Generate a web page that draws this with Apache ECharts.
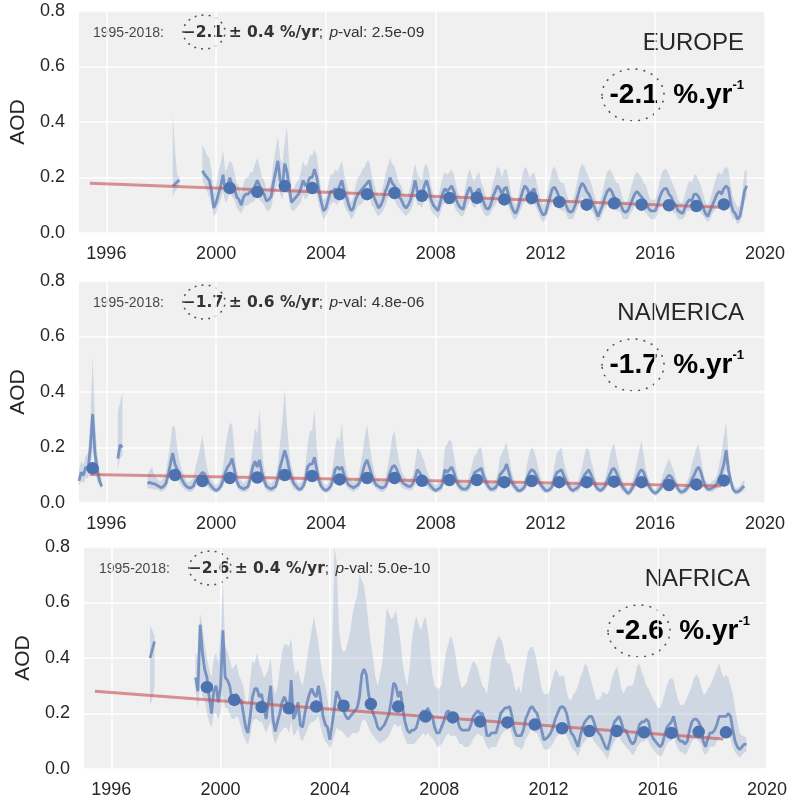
<!doctype html>
<html lang="en">
<head>
<meta charset="UTF-8">
<title>AOD trends</title>
<script src="https://cdn.jsdelivr.net/npm/echarts@6/dist/echarts.min.js"></script>
<style>
  html, body { margin: 0; padding: 0; background: #fff; }
  #main { width: 790px; height: 804px; }
</style>
</head>
<body>
<div id="main"></div>
<script>
// ---- tick labels ----
var xTicks = [1996, 2000, 2004, 2008, 2012, 2016, 2020];

// ---- EUROPE: monthly AOD (mean, band low, band high) ----
// short piece, Jun-Sep 1998
var eurMeanA = [0.17, 0.175, 0.185, 0.19];
var eurLowA  = [0.13, 0.15, 0.16, 0.17];
var eurHighA = [0.43, 0.30, 0.21, 0.20];
// main piece, Jul 1999 - May 2019
var eurMeanB = [
  0.225,0.21,0.2,0.19,0.15,0.09,
  0.11,0.14,0.17,0.21,0.15,0.17,0.2,0.17,0.16,0.13,0.12,0.1,
  0.13,0.14,0.14,0.15,0.15,0.17,0.19,0.17,0.15,0.14,0.115,0.12,
  0.13,0.18,0.22,0.26,0.19,0.17,0.25,0.22,0.16,0.11,0.12,0.13,
  0.14,0.16,0.19,0.17,0.18,0.2,0.2,0.23,0.2,0.15,0.11,0.08,
  0.09,0.12,0.15,0.15,0.16,0.15,0.17,0.19,0.15,0.13,0.1,0.08,
  0.09,0.12,0.14,0.15,0.16,0.17,0.18,0.19,0.15,0.13,0.11,0.09,
  0.1,0.12,0.15,0.17,0.2,0.18,0.17,0.15,0.13,0.12,0.1,0.09,
  0.1,0.12,0.15,0.19,0.15,0.14,0.13,0.17,0.19,0.16,0.12,0.1,
  0.09,0.08,0.11,0.14,0.16,0.15,0.16,0.17,0.15,0.12,0.1,0.09,
  0.085,0.12,0.15,0.165,0.14,0.13,0.15,0.16,0.13,0.11,0.09,0.085,
  0.1,0.13,0.15,0.17,0.16,0.14,0.16,0.165,0.13,0.1,0.08,0.07,
  0.09,0.12,0.15,0.17,0.16,0.14,0.15,0.16,0.13,0.1,0.08,0.065,
  0.07,0.1,0.13,0.16,0.165,0.15,0.13,0.12,0.12,0.1,0.08,0.075,
  0.08,0.1,0.13,0.16,0.18,0.17,0.15,0.14,0.12,0.1,0.08,0.06,
  0.08,0.1,0.13,0.15,0.16,0.15,0.13,0.12,0.12,0.1,0.08,0.075,
  0.08,0.1,0.12,0.14,0.15,0.14,0.13,0.12,0.11,0.09,0.08,0.08,
  0.08,0.1,0.13,0.15,0.16,0.16,0.14,0.13,0.11,0.1,0.08,0.075,
  0.07,0.09,0.11,0.12,0.115,0.14,0.14,0.13,0.11,0.09,0.07,0.06,
  0.08,0.1,0.12,0.14,0.15,0.14,0.16,0.17,0.16,0.11,0.08,0.07,
  0.05,0.06,0.1,0.15,0.17
];
var eurLowB = [
  0.19,0.17,0.15,0.13,0.1,0.06,
  0.07,0.1,0.12,0.15,0.11,0.12,0.15,0.13,0.12,0.09,0.08,0.07,
  0.09,0.1,0.1,0.11,0.11,0.12,0.14,0.12,0.11,0.1,0.08,0.08,
  0.09,0.13,0.15,0.19,0.14,0.12,0.18,0.16,0.11,0.08,0.08,0.09,
  0.1,0.11,0.14,0.12,0.13,0.15,0.15,0.17,0.14,0.1,0.07,0.05,
  0.06,0.08,0.1,0.11,0.11,0.1,0.12,0.14,0.1,0.08,0.07,0.05,
  0.06,0.08,0.1,0.1,0.11,0.12,0.13,0.14,0.1,0.09,0.07,0.06,
  0.07,0.08,0.1,0.12,0.15,0.13,0.12,0.1,0.09,0.08,0.07,0.06,
  0.07,0.08,0.1,0.14,0.1,0.1,0.09,0.12,0.14,0.11,0.08,0.07,
  0.06,0.05,0.07,0.1,0.11,0.1,0.11,0.12,0.1,0.08,0.07,0.06,
  0.06,0.08,0.1,0.12,0.1,0.09,0.1,0.11,0.09,0.07,0.06,0.06,
  0.07,0.09,0.1,0.12,0.11,0.1,0.11,0.12,0.09,0.07,0.05,0.05,
  0.06,0.08,0.1,0.12,0.11,0.1,0.1,0.11,0.09,0.07,0.05,0.04,
  0.05,0.07,0.09,0.11,0.12,0.1,0.09,0.08,0.08,0.07,0.05,0.05,
  0.05,0.07,0.09,0.11,0.13,0.12,0.1,0.1,0.08,0.07,0.05,0.04,
  0.05,0.07,0.09,0.1,0.11,0.1,0.09,0.08,0.08,0.07,0.05,0.05,
  0.05,0.07,0.08,0.1,0.1,0.1,0.09,0.08,0.07,0.06,0.05,0.05,
  0.05,0.07,0.09,0.1,0.11,0.11,0.1,0.09,0.07,0.07,0.05,0.05,
  0.05,0.06,0.08,0.08,0.08,0.1,0.1,0.09,0.07,0.06,0.05,0.04,
  0.05,0.07,0.08,0.1,0.1,0.1,0.11,0.12,0.11,0.07,0.05,0.05,
  0.03,0.04,0.06,0.11,0.13
];
var eurHighB = [
  0.32,0.3,0.28,0.27,0.22,0.14,
  0.17,0.22,0.25,0.3,0.22,0.24,0.26,0.25,0.22,0.18,0.17,0.14,
  0.18,0.2,0.2,0.22,0.22,0.25,0.27,0.24,0.2,0.19,0.16,0.16,
  0.18,0.25,0.3,0.35,0.27,0.25,0.33,0.38,0.24,0.16,0.16,0.18,
  0.19,0.22,0.26,0.24,0.25,0.28,0.28,0.3,0.28,0.21,0.15,0.12,
  0.13,0.17,0.21,0.21,0.23,0.22,0.24,0.26,0.21,0.18,0.14,0.11,
  0.13,0.17,0.2,0.21,0.23,0.24,0.26,0.26,0.21,0.18,0.15,0.13,
  0.14,0.17,0.21,0.24,0.27,0.25,0.24,0.21,0.18,0.17,0.14,0.13,
  0.14,0.17,0.21,0.25,0.21,0.2,0.19,0.24,0.25,0.22,0.17,0.14,
  0.13,0.12,0.16,0.2,0.22,0.21,0.22,0.23,0.21,0.17,0.14,0.13,
  0.12,0.17,0.21,0.23,0.2,0.19,0.21,0.22,0.18,0.16,0.13,0.12,
  0.14,0.18,0.21,0.24,0.23,0.2,0.23,0.23,0.19,0.14,0.12,0.1,
  0.13,0.17,0.21,0.24,0.23,0.2,0.21,0.22,0.19,0.15,0.12,0.1,
  0.11,0.15,0.19,0.23,0.24,0.22,0.19,0.18,0.18,0.15,0.12,0.11,
  0.12,0.15,0.19,0.23,0.25,0.24,0.22,0.2,0.18,0.15,0.12,0.09,
  0.12,0.15,0.19,0.22,0.23,0.22,0.2,0.18,0.18,0.15,0.12,0.11,
  0.12,0.15,0.18,0.21,0.22,0.21,0.2,0.18,0.17,0.14,0.12,0.12,
  0.12,0.15,0.19,0.22,0.23,0.23,0.21,0.19,0.17,0.15,0.12,0.11,
  0.11,0.14,0.17,0.19,0.18,0.21,0.21,0.19,0.17,0.14,0.11,0.1,
  0.12,0.15,0.18,0.21,0.22,0.21,0.23,0.24,0.23,0.17,0.13,0.11,
  0.09,0.1,0.14,0.22,0.23
];
var eurDotYears = [2000,2001,2002,2003,2004,2005,2006,2007,2008,2009,2010,2011,2012,2013,2014,2015,2016,2017,2018];
var eurDots = [0.162,0.148,0.169,0.162,0.14,0.14,0.144,0.134,0.126,0.127,0.121,0.126,0.112,0.102,0.107,0.102,0.1,0.097,0.103];
var eurTrendYears = [1995.4, 2018.4];
var eurTrend = [0.179, 0.093];

// ---- NAMERICA ----
// Jan-Nov 1995
var namMeanA = [0.08,0.11,0.1,0.13,0.12,0.2,0.32,0.18,0.12,0.08,0.06];
var namLowA  = [0.06,0.08,0.07,0.09,0.09,0.12,0.2,0.12,0.08,0.06,0.05];
var namHighA = [0.12,0.15,0.14,0.17,0.18,0.3,0.53,0.3,0.18,0.12,0.08];
// Jun-Aug 1996
var namMeanB = [0.16,0.21,0.2];
var namLowB  = [0.12,0.16,0.17];
var namHighB = [0.33,0.36,0.4];
// Jul 1997 - Apr 2019
var namMeanC = [
  0.07,0.075,0.07,0.07,0.065,0.06,
  0.055,0.06,0.07,0.1,0.14,0.18,0.14,0.12,0.1,0.085,0.07,0.06,
  0.055,0.055,0.06,0.08,0.09,0.1,0.11,0.105,0.085,0.07,0.06,0.05,
  0.045,0.05,0.06,0.08,0.11,0.13,0.14,0.16,0.12,0.08,0.06,0.055,
  0.05,0.055,0.06,0.09,0.13,0.15,0.13,0.155,0.11,0.08,0.06,0.055,
  0.05,0.055,0.06,0.09,0.13,0.16,0.19,0.16,0.12,0.09,0.07,0.06,
  0.05,0.05,0.06,0.08,0.13,0.14,0.14,0.165,0.12,0.08,0.06,0.05,
  0.045,0.05,0.06,0.08,0.12,0.13,0.12,0.13,0.1,0.08,0.065,0.06,
  0.055,0.06,0.065,0.08,0.11,0.14,0.155,0.13,0.1,0.08,0.065,0.06,
  0.055,0.055,0.06,0.08,0.11,0.13,0.135,0.12,0.1,0.08,0.07,0.065,
  0.06,0.06,0.07,0.09,0.12,0.11,0.095,0.09,0.08,0.07,0.06,0.05,
  0.045,0.05,0.055,0.07,0.12,0.11,0.12,0.13,0.11,0.08,0.065,0.055,
  0.05,0.05,0.055,0.07,0.085,0.11,0.115,0.12,0.125,0.095,0.075,0.06,
  0.05,0.05,0.055,0.065,0.1,0.11,0.12,0.14,0.11,0.08,0.065,0.055,
  0.045,0.045,0.05,0.06,0.09,0.11,0.12,0.115,0.1,0.08,0.065,0.055,
  0.045,0.045,0.05,0.06,0.09,0.11,0.115,0.12,0.1,0.08,0.065,0.05,
  0.045,0.05,0.055,0.065,0.08,0.1,0.11,0.12,0.1,0.08,0.06,0.05,
  0.045,0.05,0.06,0.08,0.1,0.12,0.125,0.11,0.09,0.07,0.055,0.045,
  0.035,0.04,0.055,0.07,0.09,0.11,0.12,0.11,0.085,0.065,0.05,0.04,
  0.035,0.04,0.05,0.06,0.08,0.09,0.1,0.095,0.08,0.065,0.05,0.04,
  0.04,0.045,0.055,0.065,0.085,0.1,0.12,0.13,0.11,0.08,0.06,0.05,
  0.05,0.055,0.06,0.07,0.09,0.11,0.14,0.19,0.12,0.08,0.05,0.04,
  0.04,0.045,0.055,0.06
];
var namLowC = [
  0.05,0.055,0.05,0.05,0.05,0.045,
  0.04,0.045,0.05,0.07,0.1,0.13,0.1,0.09,0.07,0.06,0.05,0.045,
  0.04,0.04,0.045,0.06,0.065,0.07,0.08,0.075,0.06,0.05,0.045,0.04,
  0.035,0.04,0.045,0.06,0.08,0.09,0.1,0.11,0.08,0.06,0.045,0.04,
  0.04,0.04,0.045,0.065,0.09,0.1,0.09,0.1,0.08,0.06,0.045,0.04,
  0.04,0.04,0.045,0.065,0.09,0.11,0.13,0.11,0.08,0.065,0.05,0.045,
  0.04,0.04,0.045,0.06,0.09,0.1,0.1,0.11,0.08,0.06,0.045,0.04,
  0.035,0.04,0.045,0.06,0.085,0.09,0.085,0.09,0.07,0.06,0.05,0.045,
  0.04,0.045,0.05,0.06,0.08,0.1,0.11,0.09,0.07,0.06,0.05,0.045,
  0.04,0.04,0.045,0.06,0.08,0.09,0.095,0.085,0.07,0.06,0.05,0.05,
  0.045,0.045,0.05,0.065,0.085,0.08,0.07,0.065,0.06,0.05,0.045,0.04,
  0.035,0.04,0.04,0.05,0.085,0.08,0.085,0.09,0.08,0.06,0.05,0.04,
  0.04,0.04,0.04,0.05,0.06,0.08,0.08,0.085,0.09,0.07,0.055,0.045,
  0.04,0.04,0.04,0.05,0.07,0.08,0.085,0.1,0.08,0.06,0.05,0.04,
  0.035,0.035,0.04,0.045,0.065,0.08,0.085,0.08,0.07,0.06,0.05,0.04,
  0.035,0.035,0.04,0.045,0.065,0.08,0.08,0.085,0.07,0.06,0.05,0.04,
  0.035,0.04,0.04,0.05,0.06,0.07,0.08,0.085,0.07,0.06,0.045,0.04,
  0.035,0.04,0.045,0.06,0.07,0.085,0.09,0.08,0.065,0.05,0.04,0.035,
  0.025,0.03,0.04,0.05,0.065,0.08,0.085,0.08,0.06,0.05,0.04,0.03,
  0.025,0.03,0.04,0.045,0.06,0.065,0.07,0.07,0.06,0.05,0.04,0.03,
  0.03,0.035,0.04,0.05,0.06,0.07,0.085,0.09,0.08,0.06,0.045,0.04,
  0.04,0.04,0.045,0.05,0.065,0.08,0.1,0.12,0.08,0.06,0.04,0.03,
  0.03,0.035,0.04,0.045
];
var namHighC = [
  0.1,0.12,0.13,0.1,0.09,0.08,
  0.08,0.09,0.11,0.16,0.22,0.28,0.27,0.2,0.15,0.12,0.1,0.08,
  0.075,0.08,0.09,0.13,0.16,0.2,0.245,0.18,0.13,0.1,0.085,0.07,
  0.065,0.07,0.09,0.13,0.2,0.25,0.29,0.28,0.19,0.12,0.09,0.08,
  0.07,0.08,0.09,0.14,0.2,0.27,0.25,0.335,0.2,0.12,0.09,0.075,
  0.07,0.08,0.09,0.14,0.22,0.3,0.41,0.28,0.18,0.13,0.1,0.08,
  0.07,0.07,0.09,0.13,0.21,0.26,0.26,0.335,0.2,0.12,0.09,0.07,
  0.065,0.07,0.09,0.13,0.2,0.24,0.22,0.29,0.17,0.12,0.09,0.085,
  0.075,0.085,0.09,0.13,0.18,0.24,0.28,0.22,0.16,0.12,0.09,0.085,
  0.075,0.08,0.09,0.13,0.18,0.24,0.26,0.2,0.15,0.12,0.1,0.09,
  0.08,0.085,0.1,0.14,0.2,0.19,0.17,0.15,0.12,0.1,0.085,0.07,
  0.065,0.07,0.08,0.11,0.2,0.21,0.23,0.22,0.17,0.12,0.09,0.075,
  0.07,0.07,0.08,0.11,0.14,0.17,0.18,0.2,0.2,0.14,0.1,0.085,
  0.07,0.07,0.08,0.1,0.16,0.18,0.2,0.22,0.17,0.12,0.09,0.075,
  0.065,0.065,0.07,0.09,0.14,0.18,0.2,0.19,0.16,0.12,0.09,0.075,
  0.065,0.065,0.07,0.09,0.14,0.18,0.19,0.2,0.15,0.12,0.09,0.07,
  0.065,0.07,0.075,0.1,0.13,0.17,0.2,0.19,0.15,0.12,0.085,0.07,
  0.065,0.07,0.085,0.12,0.16,0.2,0.215,0.17,0.13,0.1,0.075,0.065,
  0.05,0.06,0.08,0.11,0.15,0.19,0.225,0.17,0.12,0.09,0.07,0.055,
  0.05,0.06,0.07,0.09,0.12,0.14,0.16,0.14,0.12,0.09,0.07,0.055,
  0.055,0.065,0.08,0.1,0.14,0.17,0.2,0.21,0.16,0.11,0.08,0.07,
  0.07,0.08,0.085,0.1,0.14,0.18,0.24,0.29,0.18,0.11,0.07,0.055,
  0.055,0.06,0.075,0.085
];
var namDotYears = [1995,1998,1999,2000,2001,2002,2003,2004,2005,2006,2007,2008,2009,2010,2011,2012,2013,2014,2015,2016,2017,2018];
var namDots = [0.125,0.101,0.079,0.09,0.092,0.101,0.097,0.085,0.09,0.09,0.08,0.083,0.083,0.075,0.079,0.075,0.075,0.077,0.075,0.065,0.067,0.081];
var namTrendYears = [1995.4, 2018.4];
var namTrend = [0.103, 0.061];

// ---- NAFRICA ----
// Jun-Aug 1997
var nafMeanA = [0.40, 0.43, 0.46];
var nafLowA  = [0.23, 0.25, 0.30];
var nafHighA = [0.52, 0.50, 0.48];
// Feb 1999 - Apr 2019
var nafMeanB = [
  0.33,0.28,0.52,0.42,0.36,0.33,0.26,0.2,0.28,0.3,0.24,
  0.3,0.5,0.33,0.32,0.3,0.25,0.26,0.27,0.24,0.25,0.2,0.15,
  0.13,0.19,0.26,0.29,0.29,0.26,0.27,0.22,0.18,0.24,0.3,0.18,
  0.135,0.17,0.2,0.24,0.26,0.24,0.2,0.32,0.18,0.2,0.24,0.16,
  0.15,0.2,0.24,0.27,0.29,0.27,0.26,0.3,0.25,0.19,0.16,0.15,
  0.105,0.16,0.22,0.28,0.26,0.24,0.21,0.19,0.18,0.19,0.2,0.21,
  0.22,0.26,0.34,0.36,0.34,0.27,0.23,0.2,0.18,0.15,0.14,0.15,
  0.16,0.18,0.2,0.25,0.31,0.3,0.26,0.28,0.22,0.17,0.14,0.13,
  0.14,0.14,0.15,0.18,0.2,0.21,0.2,0.22,0.2,0.19,0.15,0.13,
  0.13,0.15,0.17,0.2,0.21,0.2,0.2,0.2,0.18,0.15,0.14,0.14,
  0.14,0.14,0.16,0.19,0.2,0.21,0.2,0.2,0.17,0.12,0.12,0.13,
  0.13,0.13,0.16,0.2,0.21,0.22,0.22,0.225,0.19,0.14,0.12,0.12,
  0.12,0.14,0.18,0.2,0.22,0.225,0.21,0.2,0.17,0.14,0.105,0.11,
  0.117,0.13,0.15,0.18,0.2,0.22,0.225,0.22,0.2,0.16,0.13,0.12,
  0.1,0.08,0.12,0.15,0.17,0.18,0.19,0.19,0.17,0.14,0.13,0.12,
  0.1,0.08,0.07,0.1,0.14,0.17,0.18,0.19,0.17,0.14,0.14,0.12,
  0.1,0.09,0.1,0.13,0.16,0.17,0.17,0.18,0.17,0.13,0.11,0.1,
  0.09,0.08,0.09,0.12,0.15,0.16,0.17,0.19,0.15,0.11,0.1,0.1,
  0.09,0.1,0.14,0.17,0.18,0.18,0.17,0.15,0.1,0.08,0.11,0.13,
  0.13,0.14,0.16,0.19,0.19,0.19,0.19,0.2,0.19,0.14,0.1,0.08,
  0.07,0.08,0.09,0.088
];
var nafLowB = [
  0.28,0.22,0.3,0.26,0.25,0.2,0.17,0.15,0.2,0.2,0.18,
  0.2,0.27,0.22,0.22,0.2,0.18,0.18,0.19,0.18,0.15,0.12,0.1,
  0.09,0.12,0.17,0.18,0.18,0.17,0.17,0.15,0.13,0.15,0.17,0.12,
  0.09,0.11,0.13,0.14,0.15,0.15,0.13,0.17,0.12,0.13,0.15,0.11,
  0.1,0.12,0.14,0.16,0.17,0.17,0.18,0.19,0.15,0.12,0.1,0.09,
  0.07,0.09,0.12,0.15,0.14,0.14,0.13,0.12,0.11,0.12,0.13,0.13,
  0.13,0.14,0.17,0.18,0.17,0.15,0.13,0.12,0.11,0.1,0.09,0.1,
  0.1,0.11,0.12,0.14,0.16,0.16,0.15,0.16,0.13,0.11,0.09,0.09,
  0.09,0.09,0.1,0.11,0.12,0.13,0.12,0.13,0.12,0.11,0.1,0.08,
  0.08,0.09,0.1,0.12,0.13,0.12,0.12,0.12,0.11,0.09,0.09,0.08,
  0.08,0.08,0.09,0.11,0.12,0.13,0.12,0.12,0.1,0.08,0.07,0.08,
  0.08,0.08,0.1,0.12,0.13,0.14,0.14,0.15,0.12,0.09,0.08,0.08,
  0.07,0.08,0.11,0.12,0.14,0.14,0.13,0.13,0.11,0.09,0.07,0.07,
  0.07,0.08,0.09,0.11,0.12,0.13,0.14,0.13,0.12,0.1,0.08,0.07,
  0.06,0.045,0.07,0.09,0.1,0.11,0.12,0.12,0.1,0.09,0.08,0.07,
  0.06,0.045,0.035,0.06,0.08,0.1,0.11,0.12,0.1,0.09,0.08,0.07,
  0.06,0.05,0.06,0.08,0.09,0.1,0.1,0.11,0.1,0.08,0.07,0.06,
  0.05,0.045,0.05,0.07,0.09,0.1,0.1,0.12,0.09,0.07,0.06,0.06,
  0.05,0.06,0.08,0.1,0.11,0.11,0.1,0.09,0.06,0.05,0.06,0.08,
  0.08,0.08,0.1,0.11,0.12,0.12,0.12,0.12,0.11,0.08,0.06,0.05,
  0.04,0.05,0.06,0.06
];
var nafHighB = [
  0.42,0.4,0.56,0.52,0.45,0.4,0.36,0.33,0.4,0.42,0.38,
  0.5,0.68,0.45,0.42,0.4,0.36,0.37,0.38,0.34,0.32,0.3,0.24,
  0.24,0.32,0.39,0.38,0.42,0.38,0.36,0.33,0.34,0.36,0.4,0.3,
  0.27,0.3,0.36,0.42,0.45,0.45,0.44,0.47,0.38,0.34,0.36,0.32,
  0.3,0.34,0.4,0.45,0.5,0.55,0.5,0.45,0.38,0.33,0.3,0.25,
  0.2,0.4,0.8,0.75,0.5,0.44,0.42,0.43,0.46,0.5,0.56,0.6,
  0.62,0.7,0.68,0.66,0.6,0.52,0.45,0.4,0.33,0.3,0.34,0.38,
  0.48,0.58,0.56,0.54,0.55,0.57,0.52,0.46,0.38,0.33,0.3,0.36,
  0.46,0.52,0.55,0.52,0.5,0.53,0.55,0.5,0.42,0.34,0.3,0.29,
  0.29,0.3,0.36,0.42,0.45,0.48,0.46,0.42,0.36,0.32,0.29,0.3,
  0.31,0.34,0.37,0.39,0.38,0.36,0.33,0.3,0.29,0.27,0.33,0.4,
  0.43,0.46,0.48,0.47,0.45,0.4,0.38,0.38,0.35,0.3,0.28,0.3,
  0.27,0.33,0.38,0.42,0.44,0.44,0.42,0.38,0.34,0.29,0.27,0.27,
  0.27,0.3,0.33,0.36,0.35,0.33,0.34,0.33,0.28,0.25,0.25,0.27,
  0.28,0.3,0.33,0.35,0.38,0.37,0.34,0.31,0.28,0.25,0.25,0.26,
  0.28,0.27,0.27,0.29,0.33,0.35,0.37,0.34,0.29,0.27,0.29,0.3,
  0.3,0.3,0.33,0.37,0.38,0.35,0.33,0.3,0.29,0.27,0.25,0.24,
  0.22,0.22,0.24,0.27,0.3,0.32,0.33,0.32,0.28,0.25,0.23,0.23,
  0.24,0.26,0.28,0.3,0.33,0.34,0.33,0.3,0.27,0.27,0.29,0.3,
  0.32,0.34,0.36,0.38,0.35,0.33,0.34,0.33,0.3,0.27,0.22,0.17,
  0.13,0.12,0.12,0.11
];
var nafDotYears = [1999,2000,2001,2002,2003,2004,2005,2006,2007,2008,2009,2010,2011,2012,2013,2014,2015,2016,2017,2018];
var nafDots = [0.295,0.249,0.223,0.219,0.225,0.228,0.234,0.225,0.189,0.186,0.171,0.168,0.16,0.147,0.137,0.137,0.132,0.13,0.134,0.132];
var nafTrendYears = [1995.4, 2018.4];
var nafTrend = [0.28, 0.108];

// ---- texts ----
var regionNames = ['EUROPE', 'NAMERICA', 'NAFRICA'];
var trendRates  = ['\u22122.1', '\u22121.7', '\u22122.6'];
var trendErrs   = ['0.4', '0.6', '0.4'];
var pValues     = ['2.5e-09', '4.8e-06', '5.0e-10'];
var bigRates    = ['-2.1', '-1.7', '-2.6'];

// ---- layout ----
var gridBoxes = [
    {left: 78, top: 11,  width: 687, height: 222},
    {left: 78, top: 281, width: 687, height: 222},
    {left: 84, top: 547, width: 687, height: 222}
];

var LINE = 'rgba(76,114,176,0.68)';
var BAND = 'rgba(76,114,176,0.2)';
var DOT = '#4c72b0';
var TREND = 'rgba(196,78,82,0.6)';
var FONT = 'Liberation Sans, Arial, sans-serif';

// monthly piece -> line points + band edges
function piece(year, month, mean, low, high) {
    var xs = mean.map(function (v, i) { return year + (month - 1 + i) / 12; });
    return {
        line: mean.map(function (v, i) { return [xs[i], v]; }),
        low: low.map(function (v, i) { return [xs[i], v]; }),
        high: high.map(function (v, i) { return [xs[i], v]; })
    };
}

var regions = [
    {
        pieces: [piece(1998, 6, eurMeanA, eurLowA, eurHighA), piece(1999, 7, eurMeanB, eurLowB, eurHighB)],
        dotYears: eurDotYears, dots: eurDots, trendYears: eurTrendYears, trend: eurTrend
    },
    {
        pieces: [piece(1995, 1, namMeanA, namLowA, namHighA), piece(1996, 6, namMeanB, namLowB, namHighB),
                 piece(1997, 7, namMeanC, namLowC, namHighC)],
        dotYears: namDotYears, dots: namDots, trendYears: namTrendYears, trend: namTrend
    },
    {
        pieces: [piece(1997, 6, nafMeanA, nafLowA, nafHighA), piece(1999, 2, nafMeanB, nafLowB, nafHighB)],
        dotYears: nafDotYears, dots: nafDots, trendYears: nafTrendYears, trend: nafTrend
    }
];

var grids = [], xAxes = [], yAxes = [], series = [], graphics = [];

regions.forEach(function (reg, k) {
    var g = gridBoxes[k];
    grids.push({left: g.left, top: g.top, width: g.width, height: g.height,
                backgroundColor: '#f0f0f0', show: true, borderWidth: 0});
    xAxes.push({
        type: 'value', gridIndex: k, min: 1995, max: 2020,
        axisLine: {show: false},
        axisTick: {show: false, customValues: xTicks},
        axisLabel: {customValues: xTicks, fontSize: 18, color: '#262626', fontFamily: FONT, margin: 12,
                    formatter: function (v) { return String(v); }},
        splitLine: {show: true, lineStyle: {color: '#ffffff', width: 1.5}}
    });
    yAxes.push({
        type: 'value', gridIndex: k, min: 0, max: 0.8, interval: 0.2,
        name: 'AOD', nameLocation: 'middle', nameGap: 47,
        nameTextStyle: {fontSize: 21, color: '#262626', fontFamily: FONT},
        axisLine: {show: false}, axisTick: {show: false},
        axisLabel: {fontSize: 18, color: '#262626', fontFamily: FONT, margin: 14,
                    formatter: function (v) { return v.toFixed(1); }},
        splitLine: {show: true, lineStyle: {color: '#ffffff', width: 1.5}}
    });

    // shaded band, one polygon per piece
    series.push({
        type: 'custom', xAxisIndex: k, yAxisIndex: k, clip: true, silent: true, z: 1,
        data: reg.pieces.map(function (p) { return [p.line[0][0], p.line[0][1]]; }),
        renderItem: function (params, api) {
            var p = reg.pieces[params.dataIndex];
            var pts = [];
            p.high.forEach(function (d) { pts.push(api.coord(d)); });
            for (var i = p.low.length - 1; i >= 0; i--) pts.push(api.coord(p.low[i]));
            return {type: 'polygon', shape: {points: pts}, style: {fill: BAND, stroke: null}};
        }
    });
    reg.pieces.forEach(function (p) {
        series.push({
            type: 'line', xAxisIndex: k, yAxisIndex: k, data: p.line, showSymbol: false,
            lineStyle: {color: LINE, width: 2.8}, z: 2, silent: true
        });
    });
    series.push({
        type: 'line', xAxisIndex: k, yAxisIndex: k, showSymbol: false, z: 3, silent: true,
        data: reg.trendYears.map(function (y, i) { return [y, reg.trend[i]]; }),
        lineStyle: {color: TREND, width: 3}
    });
    series.push({
        type: 'scatter', xAxisIndex: k, yAxisIndex: k, symbolSize: 12.5, z: 4, silent: true,
        data: reg.dotYears.map(function (y, i) { return [y + 0.5, reg.dots[i]]; }),
        itemStyle: {color: DOT, opacity: 1}
    });

    // annotations
    var dy = g.top - 11, dx = g.left - 78;
    graphics.push({
        type: 'text', x: 93 + dx, y: 33 + dy,
        style: {
            text: '{a|1995-2018:}{b|' + trendRates[k] + ' \u00b1 ' + trendErrs[k] + ' %/yr}{c|; }{i|p}{c|-val: ' + pValues[k] + '}',
            verticalAlign: 'middle',
            rich: {
                a: {fontFamily: FONT, fontSize: 14, fill: '#4a4a4a'},
                c: {fontFamily: FONT, fontSize: 15.5, fill: '#333333'},
                i: {fontFamily: FONT, fontSize: 15.5, fill: '#333333', fontStyle: 'italic', padding: [0, 0, 0, 2]},
                b: {fontFamily: 'DejaVu Sans', fontSize: 15.5, fontWeight: 'bold', fill: '#333333', padding: [0, 0, 0, 19]}
            }
        }
    });
    graphics.push({
        type: 'ellipse', shape: {cx: 204 + dx, cy: 32 + dy, rx: 21, ry: 17},
        style: {fill: null, stroke: '#555', lineWidth: 1.7, lineDash: [0.5, 6.5], lineCap: 'round'}
    });
    graphics.push({
        type: 'text', x: 744 + dx, y: 43 + dy,
        style: {text: regionNames[k], align: 'right', verticalAlign: 'middle',
                font: '24px ' + FONT, fill: '#262626'}
    });
    graphics.push({
        type: 'text', x: 744 + dx, y: 95 + dy,
        style: {
            text: '{r|' + bigRates[k] + '  %.yr}{s|-1}', align: 'right', verticalAlign: 'middle',
            rich: {
                r: {fontFamily: FONT, fontSize: 28, fontWeight: 'bold', fill: '#000', lineHeight: 32},
                s: {fontFamily: FONT, fontSize: 13, fontWeight: 'bold', fill: '#000', verticalAlign: 'top', lineHeight: 32}
            }
        }
    });
    graphics.push({
        type: 'ellipse', shape: {cx: 633 + dx, cy: 95 + dy, rx: 31, ry: 26},
        style: {fill: null, stroke: '#555', lineWidth: 1.7, lineDash: [0.5, 7.5], lineCap: 'round'}
    });
});

var chart = echarts.init(document.getElementById('main'), null, {renderer: 'canvas'});
chart.setOption({
    animation: false,
    backgroundColor: '#ffffff',
    grid: grids,
    xAxis: xAxes,
    yAxis: yAxes,
    series: series,
    graphic: graphics
});
</script>
</body>
</html>
